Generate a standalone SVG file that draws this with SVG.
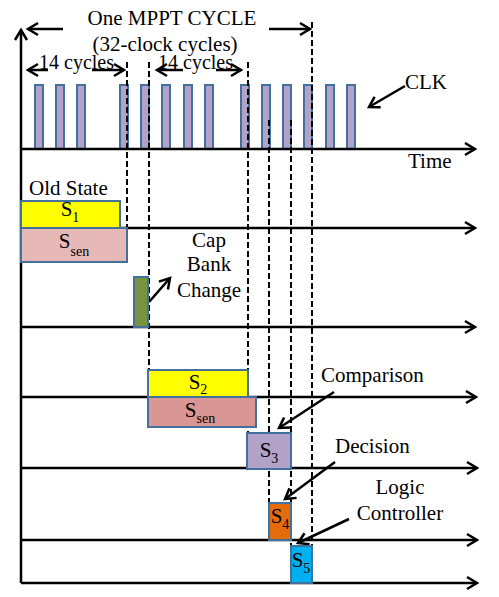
<svg xmlns="http://www.w3.org/2000/svg" width="499" height="597" viewBox="0 0 499 597">
<style>
text{font-family:"Liberation Serif","Times New Roman",serif;font-size:21px;fill:#000}
.sm{font-size:20px}
.sub{font-size:14px}
.ax{stroke:#000;stroke-width:2.5;fill:none}
.ar{stroke:#000;stroke-width:2.5;fill:none;marker-end:url(#a)}
.dash{stroke:#000;stroke-width:2;stroke-dasharray:6 3;fill:none}
.clk{fill:#B3A2C7;stroke:#41719C;stroke-width:2}
.box{stroke:#41719C;stroke-width:2}
</style>
<defs>
<marker id="a" markerUnits="userSpaceOnUse" markerWidth="16" markerHeight="16" viewBox="-13 -8 16 16" refX="0" refY="0" orient="auto"><path d="M-10,-6 L0,0 L-10,6" fill="none" stroke="#000" stroke-width="2.5"/></marker>
</defs>
<rect width="499" height="597" fill="#fff"/>
<g id="clock">
<rect class="clk" x="35" y="85" width="8" height="64"/>
<rect class="clk" x="56" y="85" width="8" height="64"/>
<rect class="clk" x="77" y="85" width="8" height="64"/>
<rect class="clk" x="120" y="85" width="8" height="64"/>
<rect class="clk" x="141" y="85" width="8" height="64"/>
<rect class="clk" x="162" y="85" width="8" height="64"/>
<rect class="clk" x="184" y="85" width="8" height="64"/>
<rect class="clk" x="205" y="85" width="8" height="64"/>
<rect class="clk" x="241" y="85" width="8" height="64"/>
<rect class="clk" x="262" y="85" width="8" height="64"/>
<rect class="clk" x="283" y="85" width="8" height="64"/>
<rect class="clk" x="304" y="85" width="8" height="64"/>
<rect class="clk" x="326" y="85" width="8" height="64"/>
<rect class="clk" x="347" y="85" width="8" height="64"/>
</g>
<g id="connectors">
<line class="ar" x1="21" y1="583" x2="21" y2="30"/>
<line class="ar" x1="21" y1="149" x2="475" y2="149"/>
<line class="ar" x1="21" y1="228" x2="475" y2="228"/>
<line class="ar" x1="21" y1="327" x2="475" y2="327"/>
<line class="ar" x1="21" y1="397" x2="476" y2="397"/>
<line class="ar" x1="21" y1="468" x2="477" y2="468"/>
<line class="ar" x1="21" y1="540" x2="477" y2="540"/>
<line class="ar" x1="21" y1="583" x2="477" y2="583"/>
<line class="dash" x1="127" y1="62" x2="127" y2="228"/>
<line class="dash" x1="149" y1="62" x2="149" y2="370"/>
<line class="dash" x1="248" y1="62" x2="248" y2="433"/>
<line class="dash" x1="269" y1="120" x2="269" y2="503"/>
<line class="dash" x1="291" y1="120" x2="291" y2="546"/>
<line class="dash" x1="312" y1="22" x2="312" y2="546"/>
<line class="ar" x1="63" y1="29" x2="28" y2="29"/>
<line class="ar" x1="269" y1="29" x2="310" y2="29"/>
<line class="ar" x1="48" y1="70" x2="28" y2="70"/>
<line class="ar" x1="92" y1="70" x2="124" y2="70"/>
<line class="ar" x1="183" y1="70" x2="157" y2="70"/>
<line class="ar" x1="216" y1="70" x2="241" y2="70"/>
<line class="ar" x1="405" y1="86" x2="369" y2="107"/>
<line class="ar" x1="149" y1="302" x2="170" y2="278"/>
<line class="ar" x1="334" y1="392" x2="279" y2="428"/>
<line class="ar" x1="335" y1="462" x2="285" y2="499"/>
<line class="ar" x1="349" y1="519" x2="298" y2="543"/>
</g>
<g id="labels">
<text x="172" y="25" text-anchor="middle">One MPPT CYCLE</text>
<text x="165" y="51" text-anchor="middle">(32-clock cycles)</text>
<text class="sm" x="39" y="69">14 cycles</text>
<text class="sm" x="158" y="69">14 cycles</text>
<text x="405" y="89">CLK</text>
<text x="408" y="168">Time</text>
<text x="29" y="195">Old State</text>
<text x="209" y="247" text-anchor="middle">Cap</text>
<text x="209" y="271" text-anchor="middle">Bank</text>
<text x="209" y="297" text-anchor="middle">Change</text>
<text x="321" y="382">Comparison</text>
<text x="335" y="453">Decision</text>
<text x="400" y="494" text-anchor="middle">Logic</text>
<text x="400" y="520" text-anchor="middle">Controller</text>
</g>
<g id="S1">
<rect class="box" x="21" y="201" width="99" height="27" fill="#FFFF00"/>
<text x="70" y="216" text-anchor="middle">S<tspan class="sub" dy="6">1</tspan></text>
</g>
<g id="Ssen1">
<rect class="box" x="21" y="228" width="106" height="34" fill="#E6B9B8"/>
<text x="74" y="248" text-anchor="middle">S<tspan class="sub" dy="8">sen</tspan></text>
</g>
<g id="CapBank">
<rect class="box" x="134" y="277" width="14" height="50" fill="#77933C"/>
</g>
<g id="S2">
<rect class="box" x="148" y="370" width="100" height="27" fill="#FFFF00"/>
<text x="198" y="389" text-anchor="middle">S<tspan class="sub" dy="5">2</tspan></text>
</g>
<g id="Ssen2">
<rect class="box" x="148" y="397" width="108" height="30" fill="#D99694"/>
<text x="200" y="417" text-anchor="middle">S<tspan class="sub" dy="6">sen</tspan></text>
</g>
<g id="S3">
<rect class="box" x="247" y="433" width="44" height="36" fill="#B3A2C7"/>
<text x="269" y="457" text-anchor="middle">S<tspan class="sub" dy="6">3</tspan></text>
</g>
<g id="S4">
<rect class="box" x="269" y="503" width="22" height="37" fill="#E46C0A"/>
<text x="280" y="523" text-anchor="middle">S<tspan class="sub" dy="6">4</tspan></text>
</g>
<g id="S5">
<rect class="box" x="291" y="546" width="21" height="37" fill="#00B0F0"/>
<text x="301" y="567" text-anchor="middle">S<tspan class="sub" dy="6">5</tspan></text>
</g>
</svg>
